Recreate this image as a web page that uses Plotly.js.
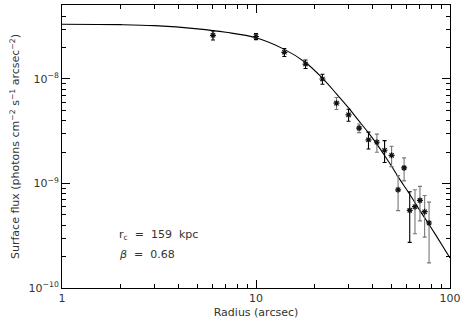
<!DOCTYPE html>
<html>
<head>
<meta charset="utf-8">
<script src="https://cdn.plot.ly/plotly-3.0.1.min.js"></script>
<style>
  html, body { margin: 0; padding: 0; background: white; }
  #plot { width: 465px; height: 325px; }
</style>
</head>
<body>
<div id="plot"></div>
<script>
// --- Data ---
// measured surface brightness profile (radius in arcsec)
const radiusDark = [6, 10, 14, 18, 22, 30, 38, 46, 62];
const fluxDark = [2.62e-8, 2.55e-8, 1.80e-8, 1.39e-8, 1.0e-8, 4.54e-9, 2.62e-9, 2.08e-9, 5.53e-10];
const errDark = [2.6e-9, 1.7e-9, 1.6e-9, 1.3e-9, 1.1e-9, 6.0e-10, 4.8e-10, 4.9e-10, 2.8e-10];

const radiusGrey = [26, 34, 42, 50, 54, 58, 66, 70, 74, 78];
const fluxGrey = [5.87e-9, 3.39e-9, 2.48e-9, 1.86e-9, 8.7e-10, 1.41e-9, 6.0e-10, 6.89e-10, 5.37e-10, 4.19e-10];
const errGrey = [7.7e-10, 3.2e-10, 4.9e-10, 4.1e-10, 3.2e-10, 3.5e-10, 2.7e-10, 2.5e-10, 2.3e-10, 2.45e-10];

// beta-model fit curve
const modelRadius = [1, 2, 3, 5, 7, 10, 14, 18, 22, 26, 30, 34, 38, 42, 46, 50, 55, 62, 70, 77, 85, 100];
const modelFlux = [3.34e-8, 3.31e-8, 3.24e-8, 3.02e-8, 2.80e-8, 2.48e-8, 1.92e-8, 1.44e-8, 1.02e-8, 7.2e-9,
  5.3e-9, 3.95e-9, 3.05e-9, 2.38e-9, 1.85e-9, 1.46e-9, 1.10e-9, 7.9e-10, 5.5e-10, 4.2e-10, 3.15e-10, 1.94e-10];

// tick labels
const xTickVals = [1, 10, 100];
const xTickText = ["1", "10", "100"];
const yTickVals = [1e-10, 1e-9, 1e-8];
const yTickText = ["10<sup>\u221210</sup>", "10<sup>\u22129</sup>", "10<sup>\u22128</sup>"];

// minor tick positions (2..9 in each decade)
const xMinor = [];
for (const d of [1, 10]) for (let m = 2; m <= 9; m++) xMinor.push(m * d);
const yMinor = [];
for (const d of [1e-10, 1e-9, 1e-8]) for (let m = 2; m <= 9; m++) yMinor.push(m * d);

const font = "DejaVu Sans, Liberation Sans, sans-serif";
const textColor = "#333";

const model = {
  x: modelRadius,
  y: modelFlux,
  mode: "lines",
  line: { color: "black", width: 1.1, shape: "spline" },
  hoverinfo: "skip"
};

function points(x, y, err, barColor) {
  return {
    x: x,
    y: y,
    mode: "markers",
    marker: { symbol: "asterisk-open", size: 5, color: "#111", line: { color: "#111", width: 1.2 } },
    error_y: { type: "data", array: err, visible: true, color: barColor, thickness: 1.1, width: 2 }
  };
}

const axisCommon = {
  type: "log",
  showgrid: false,
  zeroline: false,
  showline: true,
  linecolor: "black",
  linewidth: 1,
  mirror: "ticks",
  ticks: "inside",
  ticklen: 8,
  tickcolor: "black",
  tickfont: { family: font, size: 11, color: textColor }
};

const layout = {
  width: 465,
  height: 325,
  margin: { l: 62, r: 15, t: 5, b: 37 },
  paper_bgcolor: "white",
  plot_bgcolor: "white",
  showlegend: false,
  xaxis: Object.assign({}, axisCommon, {
    range: [0, 2],
    tickmode: "array",
    tickvals: xTickVals,
    ticktext: xTickText,
    minor: { tickmode: "array", tickvals: xMinor, ticks: "inside", ticklen: 4, tickcolor: "black" },
    title: { text: "Radius (arcsec)", font: { family: font, size: 11, color: textColor }, standoff: 4 }
  }),
  yaxis: Object.assign({}, axisCommon, {
    range: [-10, -7.292],
    tickmode: "array",
    tickvals: yTickVals,
    ticktext: yTickText,
    minor: { tickmode: "array", tickvals: yMinor, ticks: "inside", ticklen: 4, tickcolor: "black" },
    title: {
      text: "Surface flux (photons cm<sup>\u22122</sup> s<sup>\u22121</sup> arcsec<sup>\u22122</sup>)",
      font: { family: font, size: 11, color: textColor },
      standoff: 6
    }
  }),
  annotations: [
    {
      xref: "paper", yref: "paper", x: 0.142, y: 0.187, xanchor: "left", yanchor: "middle",
      text: "r<sub>c</sub>  =  159  kpc", showarrow: false,
      font: { family: font, size: 11, color: textColor }
    },
    {
      xref: "paper", yref: "paper", x: 0.142, y: 0.118, xanchor: "left", yanchor: "middle",
      text: "<i>\u03b2</i>  =  0.68", showarrow: false,
      font: { family: font, size: 11, color: textColor }
    }
  ]
};

Plotly.newPlot("plot", [
  model,
  points(radiusGrey, fluxGrey, errGrey, "#777"),
  points(radiusDark, fluxDark, errDark, "black")
], layout, { staticPlot: true });
</script>
</body>
</html>
